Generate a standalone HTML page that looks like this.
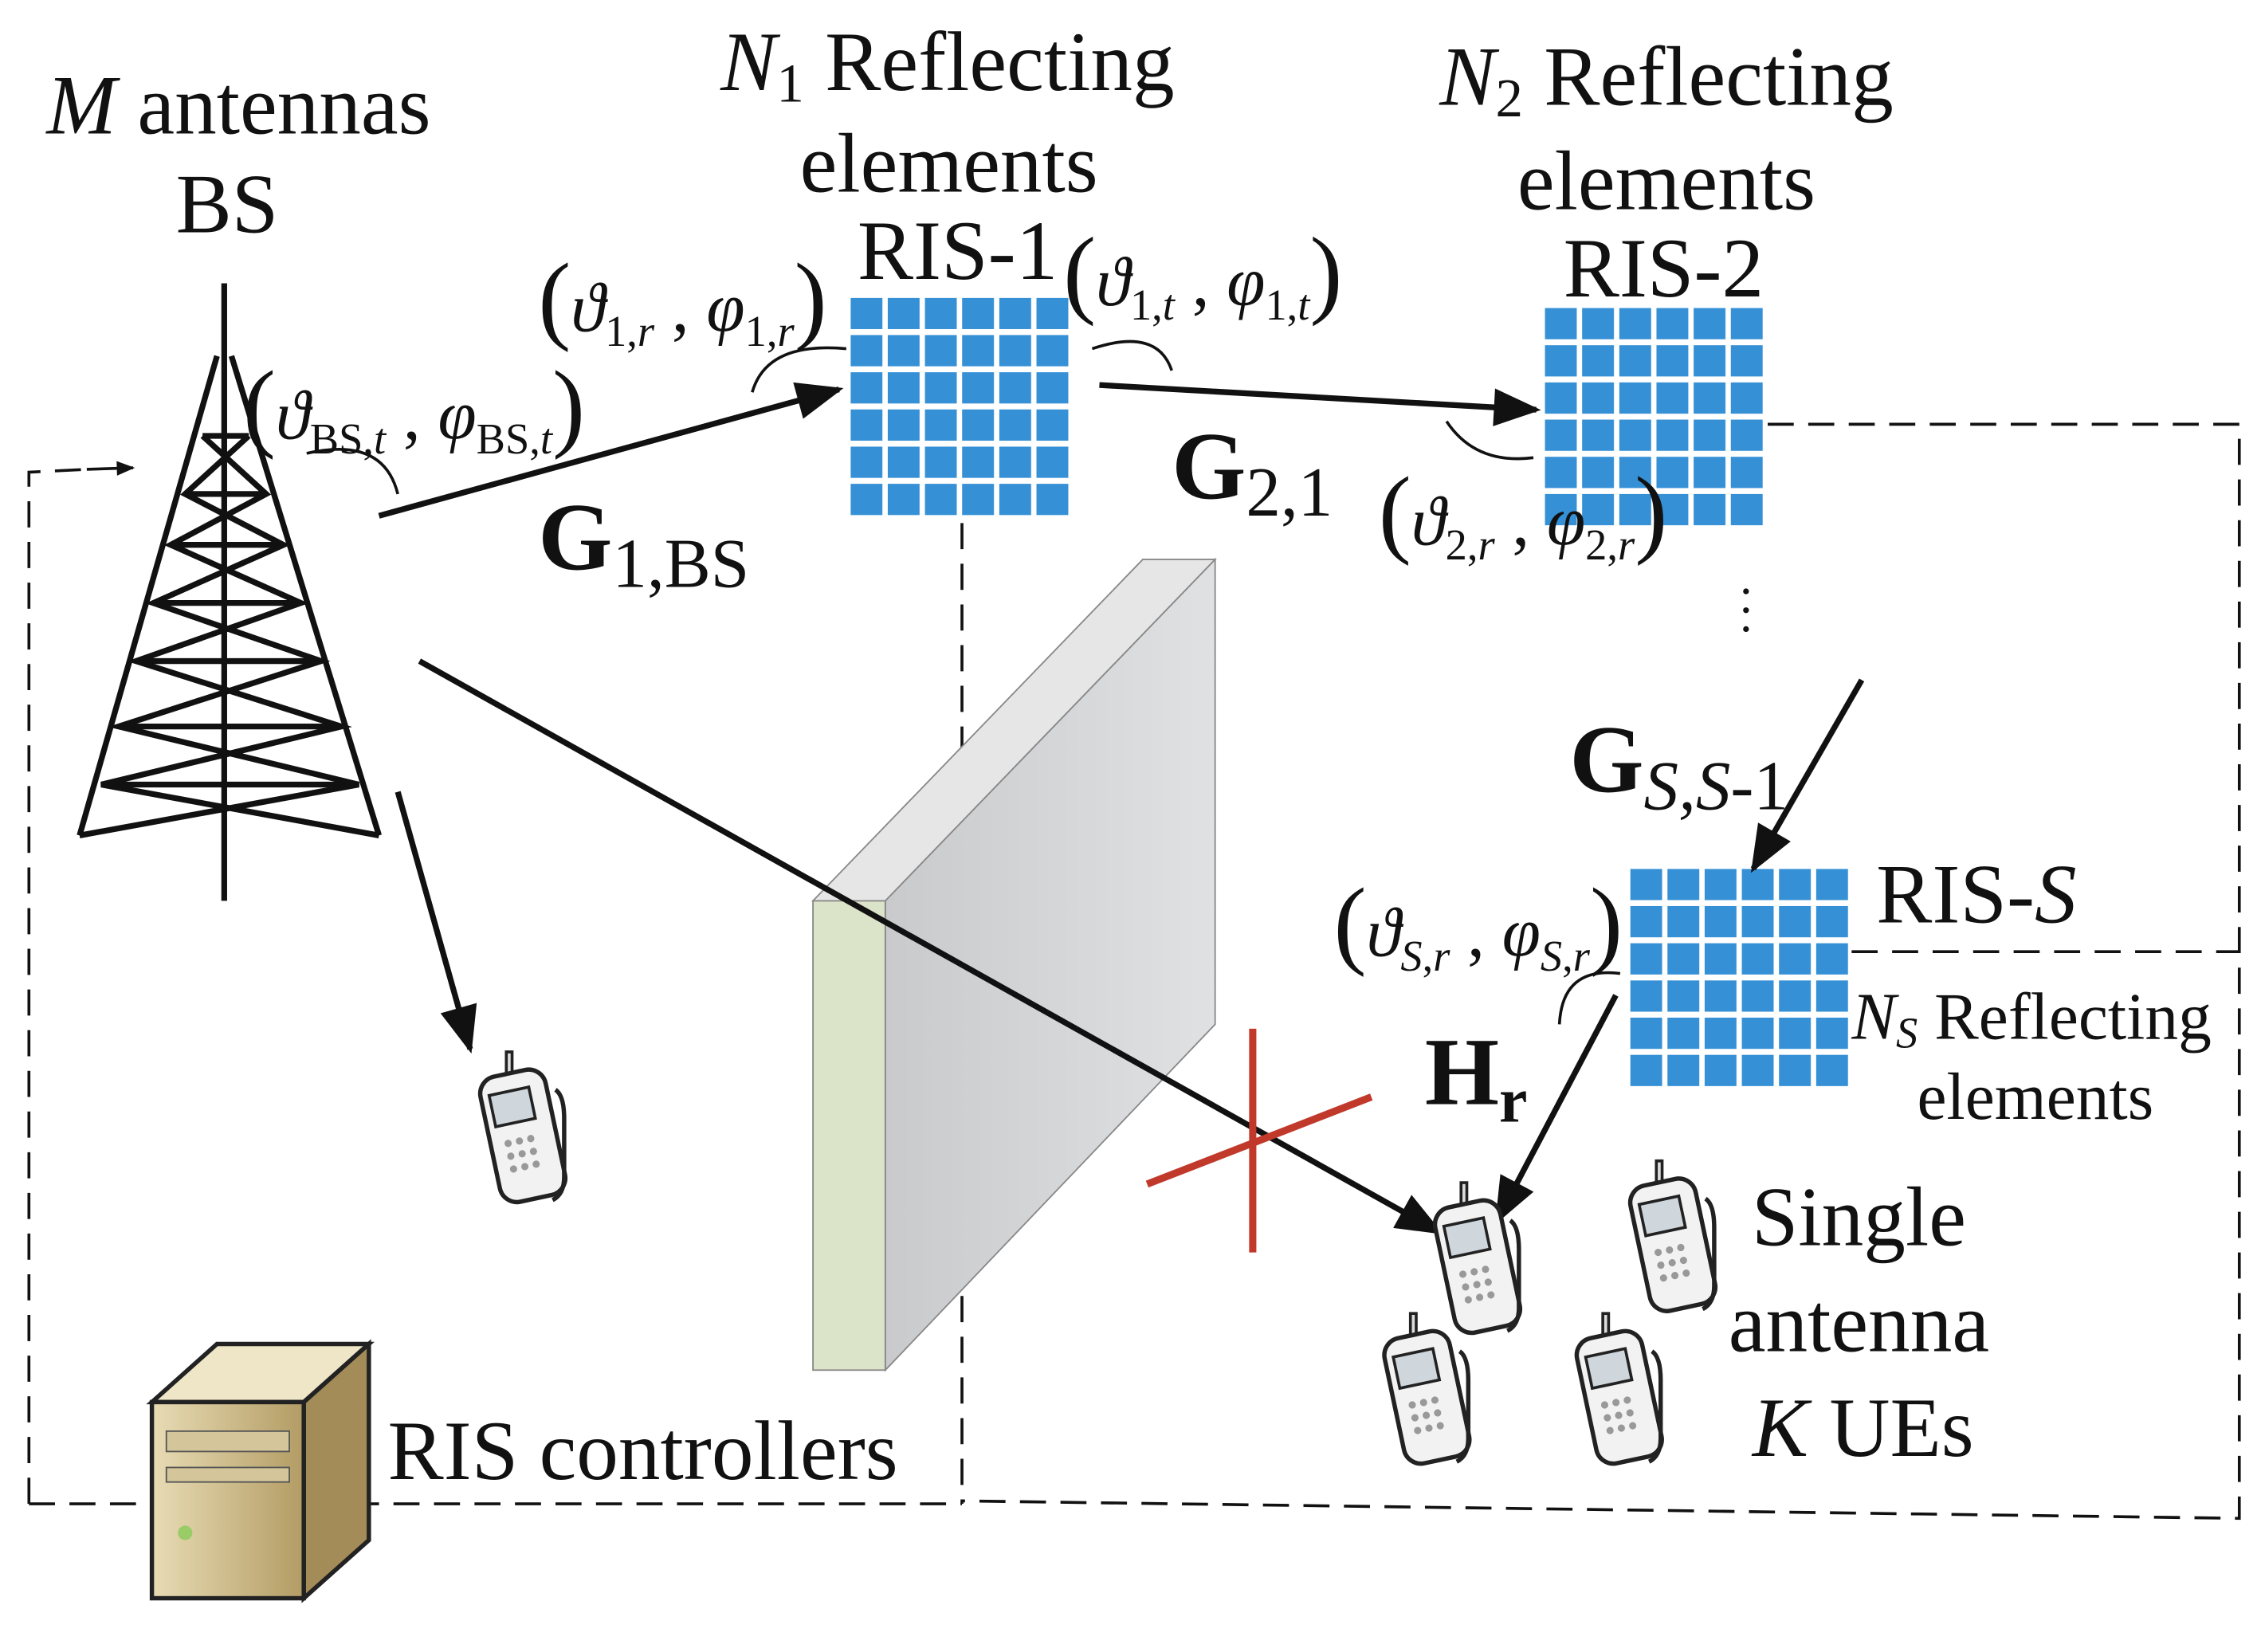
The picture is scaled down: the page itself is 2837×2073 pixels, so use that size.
<!DOCTYPE html>
<html><head><meta charset="utf-8"><style>
html,body{margin:0;padding:0;background:#fff}
svg{display:block}
text{font-family:"Liberation Serif",serif;fill:#111}
</style></head><body>
<svg width="2837" height="2073" viewBox="0 0 1563 1137" preserveAspectRatio="none" xmlns="http://www.w3.org/2000/svg">
<defs>
<marker id="ab" viewBox="0 0 10 8" refX="9" refY="4" markerWidth="34" markerHeight="26" orient="auto" markerUnits="userSpaceOnUse"><path d="M0,0 L10,4 L0,8 z" fill="#111"/></marker>
<marker id="ah" viewBox="0 0 10 8" refX="9" refY="4" markerWidth="14" markerHeight="10" orient="auto" markerUnits="userSpaceOnUse"><path d="M0,0 L10,4 L0,8 z" fill="#111"/></marker>
<pattern id="r1" x="588" y="205" width="25.7" height="25.6" patternUnits="userSpaceOnUse"><rect width="22" height="21.5" fill="#3590d6"/></pattern>
<pattern id="r2" x="1068" y="212" width="25.7" height="25.6" patternUnits="userSpaceOnUse"><rect width="22" height="21.5" fill="#3590d6"/></pattern>
<pattern id="r3" x="1127" y="598" width="25.7" height="25.6" patternUnits="userSpaceOnUse"><rect width="22" height="21.5" fill="#3590d6"/></pattern>
<linearGradient id="wall" x1="0" y1="0" x2="1" y2="0"><stop offset="0" stop-color="#c9cacc"/><stop offset="1" stop-color="#e0e1e3"/></linearGradient>
<linearGradient id="srv" x1="0" y1="0" x2="1" y2="0"><stop offset="0" stop-color="#e8dcb5"/><stop offset="1" stop-color="#b39c64"/></linearGradient>
<g id="phone">
<path d="M-10,-42 l0,-14 l4,0 l0,14" fill="#ddd" stroke="#222" stroke-width="2"/>
<rect x="-22" y="-42" width="46" height="88" rx="12" fill="#f2f2f2" stroke="#222" stroke-width="3" transform="rotate(-12)"/>
<rect x="-16" y="-30" width="28" height="22" fill="#cfd6dc" stroke="#222" stroke-width="2" transform="rotate(-12)"/>
<g fill="#999" transform="rotate(-12)"><circle cx="-10" cy="5" r="2.5"/><circle cx="-2" cy="5" r="2.5"/><circle cx="6" cy="5" r="2.5"/><circle cx="-10" cy="14" r="2.5"/><circle cx="-2" cy="14" r="2.5"/><circle cx="6" cy="14" r="2.5"/><circle cx="-10" cy="23" r="2.5"/><circle cx="-2" cy="23" r="2.5"/><circle cx="6" cy="23" r="2.5"/></g>
<path d="M24,-30 q6,4 6,20 l0,40 q0,12 -8,16" fill="none" stroke="#222" stroke-width="3"/>
</g>
</defs>

<g fill="none" stroke="#111" stroke-width="2" stroke-dasharray="18,10">
<polyline points="20,1035 20,325 60,323"/>
<line x1="20" y1="1035" x2="665" y2="1035"/>
<line x1="665" y1="360" x2="665" y2="1035"/>
<polyline points="1222,292 1548,292 1548,1045 665,1033"/>
<line x1="1280" y1="655" x2="1548" y2="655"/>
</g>
<line x1="60" y1="323" x2="92" y2="322" stroke="#111" stroke-width="2" marker-end="url(#ah)"/>

<g stroke="#111" stroke-width="4" fill="none">
<line x1="155" y1="195" x2="155" y2="620"/>
<path d="M150,245 L55,575 M160,245 L262,575"/>
<path d="M140,300 L172,300 M128,340 L184,340 M118,375 L196,375 M106,415 L208,415 M94,455 L222,455 M82,500 L236,500 M70,540 L248,540"/>
<path d="M140,300 L184,340 L118,375 L208,415 L94,455 L236,500 L70,540 L262,575 M172,300 L128,340 L196,375 L106,415 L222,455 L82,500 L248,540 L55,575"/>
</g>

<rect x="588" y="205" width="154" height="153" fill="url(#r1)"/>
<rect x="1068" y="212" width="154" height="153" fill="url(#r2)"/>
<rect x="1127" y="598" width="154" height="153" fill="url(#r3)"/>

<polygon points="612,620 840,385 840,705 612,943" fill="url(#wall)" stroke="#888" stroke-width="1"/>
<polygon points="562,620 790,385 840,385 612,620" fill="#e6e6e6" stroke="#888" stroke-width="1"/>
<rect x="562" y="620" width="50" height="323" fill="#dbe3c9" stroke="#888" stroke-width="1"/>

<g stroke="#111" stroke-width="4">
<line x1="262" y1="355" x2="580" y2="268" marker-end="url(#ab)"/>
<line x1="760" y1="265" x2="1062" y2="282" marker-end="url(#ab)"/>
<line x1="1287" y1="468" x2="1212" y2="598" marker-end="url(#ab)"/>
<line x1="1117" y1="685" x2="1035" y2="840" marker-end="url(#ab)"/>
<line x1="290" y1="455" x2="995" y2="848" marker-end="url(#ab)"/>
<line x1="275" y1="545" x2="325" y2="722" marker-end="url(#ab)"/>
</g>
<g stroke="#c0392b" stroke-width="5"><line x1="793" y1="815" x2="948" y2="755"/><line x1="866" y1="708" x2="866" y2="862"/></g>

<g fill="none" stroke="#111" stroke-width="2">
<path d="M212,312 Q265,300 275,340"/>
<path d="M520,270 Q530,235 585,240"/>
<path d="M755,240 Q800,225 810,255"/>
<path d="M1000,290 Q1020,320 1060,315"/>
<path d="M1078,705 Q1080,665 1120,670"/>
</g>

<use href="#phone" x="360" y="780"/>
<use href="#phone" x="1020" y="870"/>
<use href="#phone" x="1155" y="855"/>
<use href="#phone" x="985" y="960"/>
<use href="#phone" x="1118" y="960"/>

<polygon points="105,965 150,925 255,925 210,965" fill="#efe6c8" stroke="#222" stroke-width="3"/>
<polygon points="210,965 255,925 255,1060 210,1100" fill="#a38c58" stroke="#222" stroke-width="3"/>
<rect x="105" y="965" width="105" height="135" fill="url(#srv)" stroke="#222" stroke-width="3"/>
<rect x="115" y="985" width="85" height="14" fill="#d4c69a" stroke="#555"/>
<rect x="115" y="1010" width="85" height="10" fill="#d4c69a" stroke="#555"/>
<circle cx="128" cy="1055" r="5" fill="#9c6"/>

<g font-size="58">
<text x="165" y="92" text-anchor="middle"><tspan font-style="italic">M</tspan> antennas</text>
<text x="157" y="160" text-anchor="middle">BS</text>
<text x="655" y="62" text-anchor="middle"><tspan font-style="italic">N</tspan><tspan font-size="38" dy="8">1</tspan><tspan dy="-8"> Reflecting</tspan></text>
<text x="656" y="132" text-anchor="middle">elements</text>
<text x="662" y="192" text-anchor="middle">RIS-1</text>
<text x="1152" y="72" text-anchor="middle"><tspan font-style="italic">N</tspan><tspan font-size="38" dy="8">2</tspan><tspan dy="-8"> Reflecting</tspan></text>
<text x="1152" y="144" text-anchor="middle">elements</text>
<text x="1150" y="204" text-anchor="middle">RIS-2</text>
<text x="1297" y="635">RIS-<tspan font-style="italic">S</tspan></text>
<text x="1285" y="857" text-anchor="middle">Single</text>
<text x="1285" y="930" text-anchor="middle">antenna</text>
<text x="1288" y="1002" text-anchor="middle"><tspan font-style="italic">K</tspan> UEs</text>
<text x="268" y="1018">RIS controllers</text>
</g>
<text x="1280" y="715" font-size="46"><tspan font-style="italic">N</tspan><tspan font-size="30" dy="6" font-style="italic">S</tspan><tspan dy="-6"> Reflecting</tspan></text>
<text x="1407" y="770" font-size="46" text-anchor="middle">elements</text>

<text x="372" y="392" font-size="66" font-weight="bold">G<tspan font-size="48" font-weight="normal" dy="12">1,BS</tspan></text>
<text x="810" y="343" font-size="66" font-weight="bold">G<tspan font-size="48" font-weight="normal" dy="12">2,1</tspan></text>
<text x="1085" y="545" font-size="66" font-weight="bold">G<tspan font-size="48" font-weight="normal" font-style="italic" dy="12">S,S</tspan><tspan font-size="48" font-weight="normal">-1</tspan></text>
<text x="985" y="760" font-size="66" font-weight="bold">H<tspan font-size="44" dy="12">r</tspan></text>

<g font-size="48">
<text x="168" y="302"><tspan font-size="68">(</tspan><tspan font-style="italic">ϑ</tspan><tspan font-size="30" dy="10">BS,<tspan font-style="italic">t</tspan></tspan><tspan dy="-10"> , </tspan><tspan font-style="italic">φ</tspan><tspan font-size="30" dy="10">BS,<tspan font-style="italic">t</tspan></tspan><tspan dy="-10" font-size="68">)</tspan></text>
<text x="372" y="228"><tspan font-size="68">(</tspan><tspan font-style="italic">ϑ</tspan><tspan font-size="30" dy="10">1,<tspan font-style="italic">r</tspan></tspan><tspan dy="-10"> , </tspan><tspan font-style="italic">φ</tspan><tspan font-size="30" dy="10">1,<tspan font-style="italic">r</tspan></tspan><tspan dy="-10" font-size="68">)</tspan></text>
<text x="735" y="210"><tspan font-size="68">(</tspan><tspan font-style="italic">ϑ</tspan><tspan font-size="30" dy="10">1,<tspan font-style="italic">t</tspan></tspan><tspan dy="-10"> , </tspan><tspan font-style="italic">φ</tspan><tspan font-size="30" dy="10">1,<tspan font-style="italic">t</tspan></tspan><tspan dy="-10" font-size="68">)</tspan></text>
<text x="953" y="375"><tspan font-size="68">(</tspan><tspan font-style="italic">ϑ</tspan><tspan font-size="30" dy="10">2,<tspan font-style="italic">r</tspan></tspan><tspan dy="-10"> , </tspan><tspan font-style="italic">φ</tspan><tspan font-size="30" dy="10">2,<tspan font-style="italic">r</tspan></tspan><tspan dy="-10" font-size="68">)</tspan></text>
<text x="922" y="658"><tspan font-size="68">(</tspan><tspan font-style="italic">ϑ</tspan><tspan font-size="30" dy="10" font-style="italic">S</tspan><tspan font-size="30">,<tspan font-style="italic">r</tspan></tspan><tspan dy="-10"> , </tspan><tspan font-style="italic">φ</tspan><tspan font-size="30" dy="10" font-style="italic">S</tspan><tspan font-size="30">,<tspan font-style="italic">r</tspan></tspan><tspan dy="-10" font-size="68">)</tspan></text>
</g>
<g fill="#111"><circle cx="1207" cy="407" r="2"/><circle cx="1207" cy="420" r="2"/><circle cx="1207" cy="433" r="2"/></g>
</svg>
</body></html>
